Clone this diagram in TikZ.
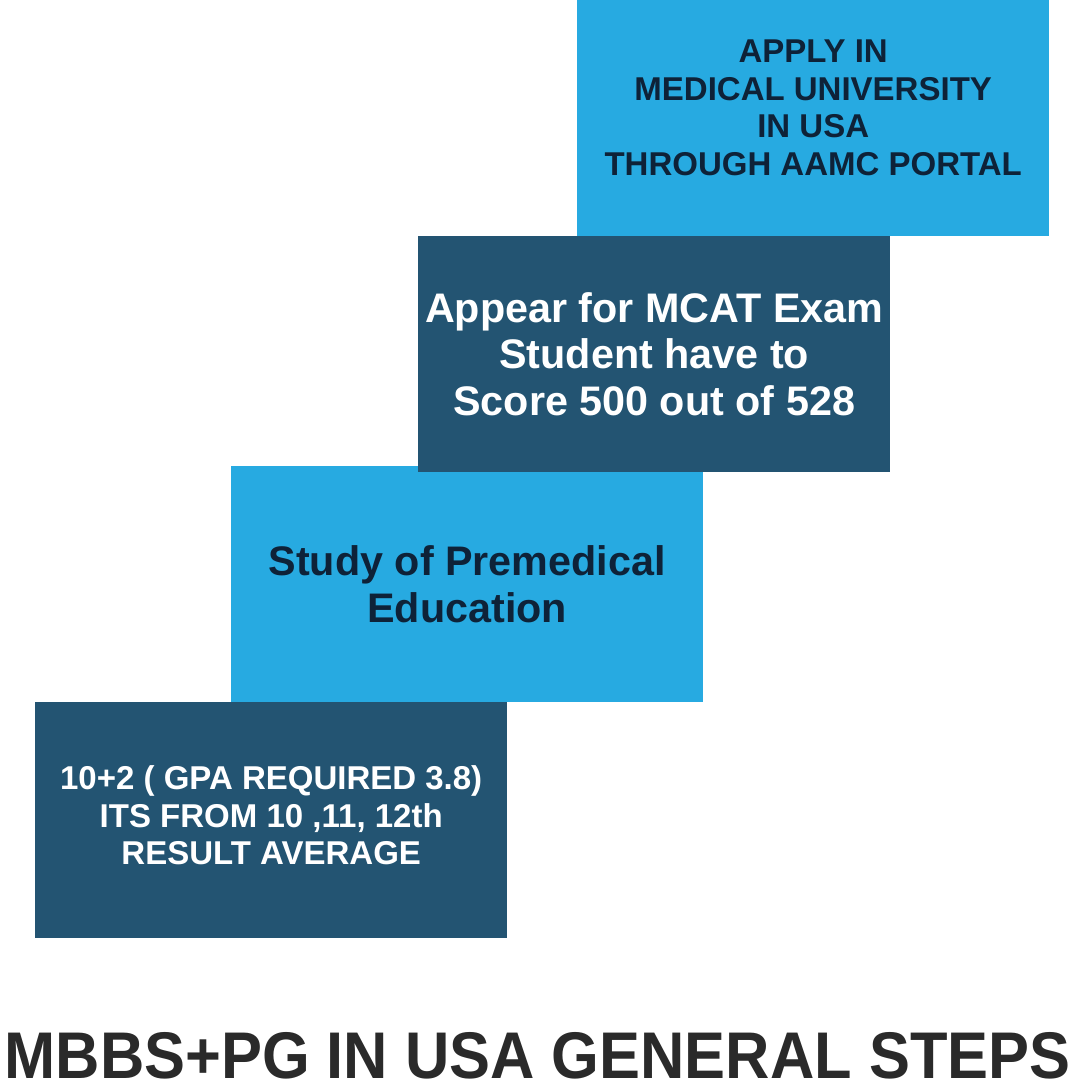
\documentclass[tikz,border=0pt]{standalone}
\usepackage{fontspec}
\setmainfont{Liberation Sans}
\definecolor{stepblue}{HTML}{27AAE1}
\definecolor{stepnavy}{HTML}{235472}
\definecolor{inknavy}{HTML}{0E2238}
\definecolor{titlegray}{HTML}{2A2A2A}
\begin{document}
\begin{tikzpicture}[x=1pt, y=-1pt,
  stepbox/.style={rectangle, minimum width=472pt, minimum height=236pt, inner sep=0pt, anchor=north west},
  smalltext/.style={align=center, font=\bfseries\fontsize{33}{37.5}\selectfont},
  bigtext/.style={align=center, font=\bfseries\fontsize{41.3}{46.7}\selectfont}]
\useasboundingbox (0,0) rectangle (1075,1082);
\node[stepbox, fill=stepnavy] (step1) at (35,702) {};
\node[stepbox, fill=stepblue] (step2) at (231,466) {};
\node[stepbox, fill=stepblue] (step4) at (577,0) {};
\node[stepbox, fill=stepnavy] (step3) at (418,236) {};
\node[smalltext, text=white] (txt1) at ([yshift=5pt]step1.center) {10+2 ( GPA REQUIRED 3.8)\\ITS FROM 10 ,11, 12th\\RESULT AVERAGE};
\node[bigtext, text=inknavy] (txt2) at (step2.center) {Study of Premedical\\Education};
\node[bigtext, text=white] (txt3) at (step3.center) {Appear for MCAT Exam\\Student have to\\Score 500 out of 528};
\node[smalltext, text=inknavy] (txt4) at ([yshift=10.5pt]step4.center) {APPLY IN\\MEDICAL UNIVERSITY\\IN USA\\THROUGH AAMC PORTAL};
\node[anchor=base, inner sep=0pt, xscale=0.93, text=titlegray, font=\bfseries\fontsize{66}{70}\selectfont] (title) at (537.5,1078) {MBBS+PG IN USA GENERAL STEPS};
\end{tikzpicture}
\end{document}
